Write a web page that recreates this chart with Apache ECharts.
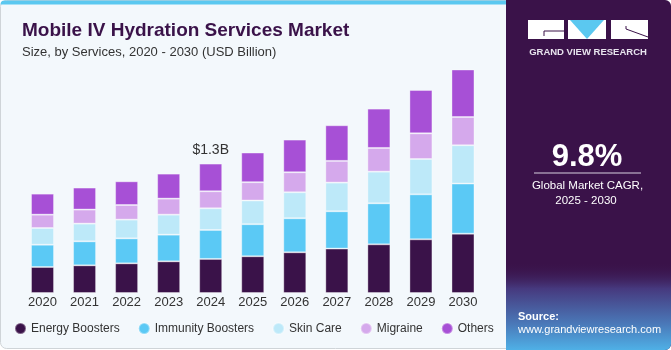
<!DOCTYPE html>
<html>
<head>
<meta charset="utf-8">
<script src="https://cdn.jsdelivr.net/npm/echarts@6/dist/echarts.min.js"></script>
<style>
  html, body { margin: 0; padding: 0; background: #ffffff; }
  #chart { width: 671px; height: 350px; }
</style>
</head>
<body>
<div id="chart"></div>
<script>
// --- Data (USD Billion) ---
const years = ['2020', '2021', '2022', '2023', '2024', '2025', '2026', '2027', '2028', '2029', '2030'];
const energyBoosters   = [0.261, 0.278, 0.298, 0.318, 0.342, 0.369, 0.409, 0.446, 0.489, 0.539, 0.596];
const immunityBoosters = [0.224, 0.241, 0.251, 0.268, 0.291, 0.322, 0.342, 0.375, 0.412, 0.452, 0.503];
const skinCare         = [0.168, 0.178, 0.188, 0.201, 0.218, 0.238, 0.261, 0.288, 0.318, 0.355, 0.385];
const migraine         = [0.134, 0.141, 0.147, 0.161, 0.171, 0.184, 0.201, 0.218, 0.238, 0.258, 0.284];
const others           = [0.211, 0.221, 0.238, 0.251, 0.278, 0.298, 0.328, 0.358, 0.395, 0.435, 0.482];

const seriesNames = ['Energy Boosters', 'Immunity Boosters', 'Skin Care', 'Migraine', 'Others'];
const seriesColors = ['#3a1249', '#5bc9f5', '#bde9f9', '#d5a9ec', '#a750d6'];
const calloutYear = '2024';
const calloutText = '$1.3B';

const FONT = '"Liberation Sans", Arial, sans-serif';

const chart = echarts.init(document.getElementById('chart'));

function makeSeries(name, values, idx) {
    const data = values.map((v, i) => {
        if (name === 'Others' && years[i] === calloutYear) {
            return {
                value: v,
                label: {
                    show: true, position: 'top', distance: 6,
                    formatter: calloutText, color: '#333', fontSize: 14, fontFamily: FONT
                }
            };
        }
        return v;
    });
    return {
        name: name,
        type: 'bar',
        stack: 'total',
        barWidth: 23,
        itemStyle: {
            color: seriesColors[idx],
            borderColor: 'rgba(255,255,255,0.35)',
            borderWidth: 1
        },
        data: data
    };
}

const option = {
    animation: false,
    backgroundColor: 'transparent',
    title: [{
        text: 'Mobile IV Hydration Services Market',
        left: 17, top: 16,
        textStyle: { fontSize: 19, fontWeight: 900, color: '#3a1249', fontFamily: FONT }
    }, {
        text: 'Size, by Services, 2020 - 2030 (USD Billion)',
        left: 17, top: 41,
        textStyle: { fontSize: 13, fontWeight: 'normal', color: '#333', fontFamily: FONT }
    }],
    grid: { left: 21.5, right: 187, top: 70, bottom: 57 },
    xAxis: {
        type: 'category',
        data: years,
        axisLine: { show: false },
        axisTick: { show: false },
        axisLabel: { color: '#333', fontSize: 13, margin: 3, fontFamily: FONT }
    },
    yAxis: {
        type: 'value', min: 0, max: 2.24,
        show: false,
        splitLine: { show: false }
    },
    legend: {
        data: seriesNames,
        left: 14, top: 322,
        padding: 0,
        icon: 'circle',
        itemWidth: 11, itemHeight: 11,
        itemGap: 18,
        textStyle: { color: '#333', fontSize: 12, fontFamily: FONT }
    },
    graphic: [
        // card background
        { type: 'rect', z: -10, shape: { x: 0.5, y: 0.5, width: 670, height: 348, r: 6 },
          style: { fill: '#f3f8fc', stroke: '#cfd4d8', lineWidth: 1 } },
        // top blue strip
        { type: 'rect', z: -9, shape: { x: 0.5, y: 0.5, width: 510, height: 4, r: [6, 0, 0, 0] },
          style: { fill: '#5bc8f0' } },
        // right panel
        { type: 'rect', z: -8, shape: { x: 506, y: 0, width: 165, height: 350, r: [0, 6, 6, 0] },
          style: { fill: '#3a1249' } },
        { type: 'rect', z: -7, shape: { x: 506, y: 262, width: 165, height: 88, r: [0, 0, 6, 0] },
          style: { fill: { type: 'linear', x: 0, y: 0, x2: 0, y2: 1, colorStops: [
              { offset: 0, color: 'rgba(58,18,73,0)' },
              { offset: 0.3, color: '#46397e' },
              { offset: 0.7, color: '#4a78b8' },
              { offset: 1, color: '#4fb0e6' }
          ] } } },
        // logo blocks
        { type: 'rect', shape: { x: 528, y: 20, width: 36, height: 19 }, style: { fill: '#ffffff' } },
        { type: 'line', shape: { x1: 544, y1: 31, x2: 564, y2: 31 }, style: { stroke: '#3a1249', lineWidth: 1 } },
        { type: 'line', shape: { x1: 544, y1: 31, x2: 544, y2: 36 }, style: { stroke: '#3a1249', lineWidth: 1 } },
        { type: 'rect', shape: { x: 568, y: 20, width: 38, height: 19 }, style: { fill: '#ffffff' } },
        { type: 'polygon', shape: { points: [[570, 20], [604, 20], [587, 39]] }, style: { fill: '#5bc8f0' } },
        { type: 'rect', shape: { x: 611, y: 20, width: 37, height: 19 }, style: { fill: '#ffffff' } },
        { type: 'line', shape: { x1: 626, y1: 29, x2: 648, y2: 37 }, style: { stroke: '#3a1249', lineWidth: 1 } },
        { type: 'line', shape: { x1: 626, y1: 26, x2: 626, y2: 29 }, style: { stroke: '#3a1249', lineWidth: 1 } },
        { type: 'text', x: 588, y: 52, style: {
            text: 'GRAND VIEW RESEARCH', fill: '#e8e4ee', font: 'bold 9.5px ' + FONT,
            align: 'center', verticalAlign: 'middle' } },
        // CAGR
        { type: 'text', x: 587, y: 157, style: {
            text: '9.8%', fill: '#ffffff', font: 'bold 31px ' + FONT,
            align: 'center', verticalAlign: 'middle' } },
        { type: 'line', shape: { x1: 534, y1: 173, x2: 641, y2: 173 }, style: { stroke: '#d8d0e0', lineWidth: 1 } },
        { type: 'text', x: 587.5, y: 186, style: {
            text: 'Global Market CAGR,', fill: '#ffffff', font: '11.5px ' + FONT,
            align: 'center', verticalAlign: 'middle' } },
        { type: 'text', x: 586, y: 201, style: {
            text: '2025 - 2030', fill: '#ffffff', font: '11.5px ' + FONT,
            align: 'center', verticalAlign: 'middle' } },
        // source
        { type: 'text', x: 518, y: 317, style: {
            text: 'Source:', fill: '#ffffff', font: 'bold 11px ' + FONT,
            align: 'left', verticalAlign: 'middle' } },
        { type: 'text', x: 518, y: 330, style: {
            text: 'www.grandviewresearch.com', fill: '#ffffff', font: '11px ' + FONT,
            align: 'left', verticalAlign: 'middle' } }
    ],
    series: [
        makeSeries(seriesNames[0], energyBoosters, 0),
        makeSeries(seriesNames[1], immunityBoosters, 1),
        makeSeries(seriesNames[2], skinCare, 2),
        makeSeries(seriesNames[3], migraine, 3),
        makeSeries(seriesNames[4], others, 4)
    ]
};

chart.setOption(option);
</script>
</body>
</html>
